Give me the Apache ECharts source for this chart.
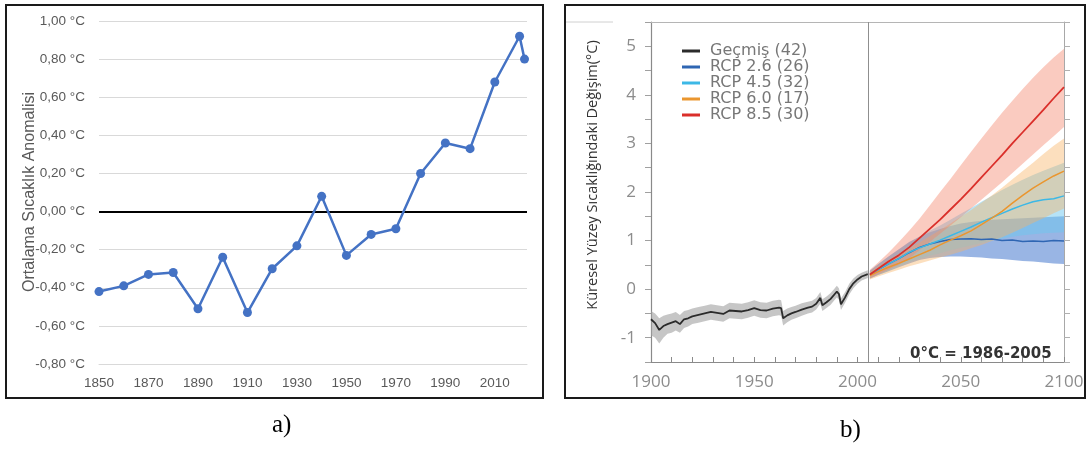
<!DOCTYPE html>
<html>
<head>
<meta charset="utf-8">
<script src="https://cdn.jsdelivr.net/npm/echarts@6/dist/echarts.min.js"></script>
<style>
  html, body { margin: 0; padding: 0; background: #fff; }
  #wrap { position: relative; width: 1089px; height: 449px; overflow: hidden; background: #fff; }
  #chartA { position: absolute; left: 0; top: 0; width: 548px; height: 449px; }
  #chartB { position: absolute; left: 548px; top: 0; width: 541px; height: 449px; filter: blur(0.45px); }
  #frame { position: absolute; left: 0; top: 0; width: 1089px; height: 449px; }
</style>
</head>
<body>
<div id="wrap">
  <div id="chartA"></div>
  <div id="chartB"></div>
  <div id="frame"></div>
</div>
<script>
// ---------- Panel a: decadal mean temperature anomaly ----------
const anomalyYears = [1850, 1860, 1870, 1880, 1890, 1900, 1910, 1920, 1930, 1940,
                      1950, 1960, 1970, 1980, 1990, 2000, 2010, 2020, 2022];
const anomalyValues = [-0.42, -0.39, -0.33, -0.32, -0.51, -0.24, -0.53, -0.30, -0.18, 0.08,
                       -0.23, -0.12, -0.09, 0.20, 0.36, 0.33, 0.68, 0.92, 0.80];
const anomalyAxisTitle = 'Ortalama Sıcaklık Anomalisi';

// ---------- Panel b: observed and projected surface temperature change ----------
const legendNames = ['Geçmiş (42)', 'RCP 2.6 (26)', 'RCP 4.5 (32)', 'RCP 6.0 (17)', 'RCP 8.5 (30)'];
const changeAxisTitle = 'Küresel Yüzey Sıcaklığındaki Değişim(°C)';
const baselineNote = '0°C = 1986-2005';
const panelCaptions = ['a)', 'b)'];

const histYears = [1900, 1902, 1904, 1906, 1908, 1910, 1912, 1914, 1916, 1918, 1920, 1923, 1926, 1929,
                   1932, 1935, 1938, 1941, 1944, 1947, 1950, 1953, 1956, 1959, 1962, 1963, 1964, 1966,
                   1968, 1970, 1973, 1976, 1978, 1980, 1982, 1983, 1985, 1987, 1989, 1990, 1991, 1992,
                   1994, 1996, 1998, 2000, 2002, 2005];
const histMean = [-0.62, -0.70, -0.84, -0.76, -0.72, -0.69, -0.66, -0.72, -0.62, -0.60, -0.56, -0.53, -0.50, -0.47,
                  -0.49, -0.51, -0.44, -0.45, -0.46, -0.43, -0.39, -0.43, -0.44, -0.40, -0.38, -0.39, -0.60, -0.54,
                  -0.50, -0.47, -0.42, -0.38, -0.36, -0.30, -0.18, -0.33, -0.27, -0.20, -0.10, -0.05, -0.10, -0.31,
                  -0.17, 0.00, 0.12, 0.20, 0.26, 0.31];
const histLow = [-0.95, -1.00, -1.12, -1.00, -0.92, -0.90, -0.85, -0.90, -0.80, -0.77, -0.72, -0.69, -0.66, -0.63,
                 -0.65, -0.67, -0.60, -0.61, -0.62, -0.59, -0.55, -0.59, -0.60, -0.56, -0.54, -0.55, -0.75, -0.68,
                 -0.63, -0.60, -0.55, -0.50, -0.48, -0.42, -0.30, -0.45, -0.39, -0.32, -0.22, -0.17, -0.22, -0.43,
                 -0.28, -0.11, 0.02, 0.11, 0.18, 0.23];
const histHigh = [-0.45, -0.50, -0.60, -0.55, -0.52, -0.50, -0.47, -0.53, -0.45, -0.43, -0.40, -0.37, -0.34, -0.31,
                  -0.33, -0.35, -0.28, -0.29, -0.30, -0.27, -0.23, -0.27, -0.28, -0.24, -0.22, -0.23, -0.45, -0.40,
                  -0.37, -0.34, -0.29, -0.26, -0.24, -0.18, -0.06, -0.21, -0.15, -0.08, 0.02, 0.07, 0.02, -0.19,
                  -0.06, 0.11, 0.22, 0.29, 0.34, 0.39];

const projYears = [2006, 2010, 2015, 2020, 2025, 2030, 2035, 2040, 2045, 2050,
                   2055, 2060, 2065, 2070, 2075, 2080, 2085, 2090, 2095, 2100];

const rcp26Mean = [0.30, 0.40, 0.52, 0.63, 0.75, 0.86, 0.93, 0.98, 1.02, 1.03, 1.04, 1.02, 1.03, 1.00, 1.01, 0.98, 0.99, 0.98, 1.00, 0.99];
const rcp26Low  = [0.22, 0.29, 0.37, 0.45, 0.53, 0.60, 0.64, 0.66, 0.67, 0.67, 0.66, 0.65, 0.63, 0.62, 0.60, 0.58, 0.57, 0.55, 0.53, 0.52];
const rcp26High = [0.38, 0.51, 0.67, 0.82, 0.97, 1.08, 1.17, 1.24, 1.30, 1.35, 1.38, 1.41, 1.43, 1.44, 1.45, 1.46, 1.47, 1.48, 1.49, 1.50];

const rcp45Mean = [0.30, 0.40, 0.52, 0.63, 0.76, 0.85, 0.93, 1.01, 1.10, 1.19, 1.28, 1.38, 1.47, 1.56, 1.65, 1.73, 1.80, 1.84, 1.86, 1.92];
const rcp45Low  = [0.22, 0.29, 0.38, 0.47, 0.56, 0.63, 0.69, 0.74, 0.80, 0.85, 0.90, 0.95, 1.00, 1.04, 1.08, 1.11, 1.13, 1.15, 1.16, 1.17];
const rcp45High = [0.38, 0.51, 0.66, 0.80, 0.95, 1.08, 1.20, 1.31, 1.43, 1.55, 1.67, 1.80, 1.92, 2.04, 2.15, 2.25, 2.35, 2.44, 2.52, 2.60];

const rcp60Mean = [0.28, 0.36, 0.45, 0.53, 0.62, 0.71, 0.80, 0.91, 1.01, 1.10, 1.20, 1.33, 1.46, 1.60, 1.77, 1.93, 2.08, 2.21, 2.33, 2.43];
const rcp60Low  = [0.20, 0.26, 0.33, 0.40, 0.47, 0.53, 0.59, 0.65, 0.71, 0.77, 0.84, 0.91, 0.99, 1.07, 1.16, 1.26, 1.36, 1.46, 1.56, 1.66];
const rcp60High = [0.36, 0.47, 0.60, 0.72, 0.84, 0.96, 1.09, 1.22, 1.35, 1.49, 1.63, 1.78, 1.93, 2.09, 2.26, 2.43, 2.60, 2.78, 2.95, 3.10];

const rcp85Mean = [0.30, 0.42, 0.57, 0.70, 0.86, 1.05, 1.24, 1.43, 1.64, 1.85, 2.07, 2.30, 2.53, 2.76, 3.00, 3.23, 3.46, 3.69, 3.93, 4.16];
const rcp85Low  = [0.22, 0.30, 0.40, 0.50, 0.63, 0.80, 0.97, 1.14, 1.31, 1.48, 1.66, 1.84, 2.02, 2.20, 2.39, 2.58, 2.77, 2.96, 3.15, 3.34];
const rcp85High = [0.40, 0.55, 0.75, 0.97, 1.20, 1.45, 1.72, 2.00, 2.27, 2.55, 2.83, 3.10, 3.37, 3.63, 3.88, 4.12, 4.35, 4.57, 4.77, 4.95];

const SCENARIO_YEAR = 2005;

// ---------------- helpers ----------------
const pairs = (xs, ys) => xs.map((x, i) => [x, ys[i]]);

// Uncertainty envelope: one polygon running along the upper bound and back along the lower bound
function band(xs, lo, hi, fill, z) {
  return {
    type: 'custom',
    silent: true,
    clip: true,
    z: z,
    data: xs.map((x, i) => [x, lo[i], hi[i]]),
    encode: { x: 0, y: [1, 2] },
    renderItem: function (params, api) {
      if (params.dataIndex !== 0) return null;
      const pts = [];
      for (let i = 0; i < xs.length; i++) pts.push(api.coord([xs[i], hi[i]]));
      for (let i = xs.length - 1; i >= 0; i--) pts.push(api.coord([xs[i], lo[i]]));
      return { type: 'polygon', shape: { points: pts }, style: { fill: fill } };
    }
  };
}

// ---------------- Panel a ----------------
const chartA = echarts.init(document.getElementById('chartA'), null, { renderer: 'canvas' });
const excelFont = "'Liberation Sans Narrow', 'Liberation Sans', sans-serif";
chartA.setOption({
  animation: false,
  graphic: [
    { type: 'text', x: 30, y: 192, rotation: Math.PI / 2,
      style: { text: anomalyAxisTitle, font: "16px " + excelFont, fill: '#595959',
               textAlign: 'center', textVerticalAlign: 'middle' } }
  ],
  grid: { left: 99, right: 21, top: 21, bottom: 85 },
  xAxis: {
    type: 'value', min: 1850, max: 2023, interval: 20,
    axisLine: { show: true, onZero: false, lineStyle: { color: '#d9d9d9', width: 1 } },
    axisTick: { show: false },
    splitLine: { show: false },
    axisLabel: { showMaxLabel: false, color: '#595959', fontSize: 13.5, fontFamily: excelFont, margin: 12,
                 formatter: v => String(v) }
  },
  yAxis: {
    type: 'value', min: -0.8, max: 1.0, interval: 0.2,
    axisLine: { show: false }, axisTick: { show: false },
    splitLine: { lineStyle: { color: '#d9d9d9', width: 1 } },
    axisLabel: {
      color: '#595959', fontSize: 13.5, fontFamily: excelFont, margin: 14,
      formatter: v => v.toFixed(2).replace('.', ',') + ' °C'
    }
  },
  series: [{
    type: 'line',
    data: pairs(anomalyYears, anomalyValues),
    symbol: 'circle', symbolSize: 9,
    lineStyle: { color: '#4472C4', width: 2.5 },
    itemStyle: { color: '#4472C4' },
    markLine: {
      silent: true, symbol: 'none', label: { show: false },
      lineStyle: { color: '#000', width: 1.8, type: 'solid' },
      data: [{ yAxis: 0 }]
    },
    z: 5
  }]
});

// ---------------- Panel b ----------------
const chartB = echarts.init(document.getElementById('chartB'), null, { renderer: 'canvas' });
const sans = "'Open Sans', 'Noto Sans', sans-serif";
const wide = "'DejaVu Sans', 'Open Sans', sans-serif";
const axisGray = '#8c8c8c';
const frameGray = '#8a8a8a';

const colBlack = '#2b2b2b', colBlue = '#2f66b3', colCyan = '#3cb8e6', colOrange = '#ea962f', colRed = '#da2f2a';

function meanLine(name, xs, ys, color, width, z, extra) {
  return Object.assign({
    name: name, type: 'line', data: pairs(xs, ys),
    showSymbol: false, symbol: 'none',
    lineStyle: { color: color, width: width },
    itemStyle: { color: color },
    z: z, silent: true
  }, extra || {});
}

chartB.setOption({
  animation: false,
  graphic: [
    { type: 'line', shape: { x1: 18, y1: 22, x2: 65, y2: 22 },
      style: { stroke: '#d0d0d0', lineWidth: 1 } },
    { type: 'text', x: 45, y: 175, rotation: Math.PI / 2,
      style: { text: changeAxisTitle, font: "14.5px " + sans, fill: '#333',
               textAlign: 'center', textVerticalAlign: 'middle' } },
    { type: 'text', x: 362, y: 354,
      style: { text: baselineNote, font: "bold 15px " + wide, fill: '#333',
               textAlign: 'left', textVerticalAlign: 'middle' }, z: 50 }
  ],
  legend: {
    data: legendNames,
    orient: 'vertical', left: 129, top: 38,
    itemWidth: 18, itemHeight: 3, itemGap: 0, icon: 'rect',
    textStyle: { color: '#777', fontSize: 16, fontFamily: wide, lineHeight: 13, padding: [0, 0, 0, 5] },
    selectedMode: false
  },
  grid: { left: 103, right: 25, top: 22, bottom: 87 },
  xAxis: [{
    type: 'value', min: 1900, max: 2100, interval: 10, position: 'bottom',
    axisLine: { show: true, onZero: false, lineStyle: { color: frameGray, width: 1.2 } },
    axisTick: { show: true, inside: true, length: 5, lineStyle: { color: frameGray } },
    splitLine: { show: false },
    axisLabel: { color: axisGray, fontSize: 17, fontFamily: sans, margin: 12,
                 formatter: v => (v % 50 === 0 ? String(v) : '') }
  }, {
    type: 'value', min: 1900, max: 2100, interval: 50, position: 'top',
    axisLine: { show: true, onZero: false, lineStyle: { color: '#b5b5b5', width: 1 } },
    axisTick: { show: false }, axisLabel: { show: false }, splitLine: { show: false }
  }],
  yAxis: [{
    type: 'value', min: -1.5, max: 5.5, interval: 0.5, position: 'left',
    axisLine: { show: true, onZero: false, lineStyle: { color: frameGray, width: 1.2 } },
    axisTick: { show: true, length: 6, lineStyle: { color: '#a0a0a0' } },
    splitLine: { show: false },
    axisLabel: { color: axisGray, fontSize: 17, fontFamily: sans, margin: 15,
                 formatter: v => (Math.abs(v - Math.round(v)) < 1e-9 ? String(Math.round(v)) : '') }
  }, {
    type: 'value', min: -1.5, max: 5.5, interval: 0.5, position: 'right',
    axisLine: { show: true, onZero: false, lineStyle: { color: '#a8a8a8', width: 1 } },
    axisTick: { show: true, length: 6, lineStyle: { color: '#b0b0b0' } },
    axisLabel: { show: false }, splitLine: { show: false }
  }],
  series: [
    band(histYears, histLow, histHigh, 'rgba(160,160,160,0.6)', 1),
    band(projYears, rcp26Low, rcp26High, 'rgba(70,120,205,0.55)', 1),
    band(projYears, rcp45Low, rcp45High, 'rgba(110,200,240,0.5)', 1),
    band(projYears, rcp60Low, rcp60High, 'rgba(248,178,100,0.42)', 1),
    band(projYears, rcp85Low, rcp85High, 'rgba(242,130,105,0.42)', 1),
    meanLine(legendNames[0], histYears, histMean, colBlack, 1.8, 4, {
      markLine: {
        silent: true, symbol: 'none', label: { show: false },
        lineStyle: { color: '#8f8f8f', width: 1, type: 'solid' },
        data: [{ xAxis: SCENARIO_YEAR }]
      }
    }),
    meanLine(legendNames[1], projYears, rcp26Mean, colBlue, 1.5, 4),
    meanLine(legendNames[2], projYears, rcp45Mean, colCyan, 1.5, 4),
    meanLine(legendNames[3], projYears, rcp60Mean, colOrange, 1.5, 4),
    meanLine(legendNames[4], projYears, rcp85Mean, colRed, 1.8, 5)
  ]
});

// ---------------- Panel frames and captions (kept sharp) ----------------
const frame = echarts.init(document.getElementById('frame'), null, { renderer: 'canvas' });
const captionFont = "25px 'Liberation Serif', 'Times New Roman', serif";
frame.setOption({
  animation: false,
  graphic: [
    { type: 'rect', shape: { x: 6, y: 5, width: 537, height: 393 },
      style: { fill: 'none', stroke: '#1a1a1a', lineWidth: 2 } },
    { type: 'rect', shape: { x: 565, y: 5, width: 520, height: 393 },
      style: { fill: 'none', stroke: '#1a1a1a', lineWidth: 2 } },
    { type: 'text', left: 272, top: 413, style: { text: panelCaptions[0], font: captionFont, fill: '#000' } },
    { type: 'text', left: 840, top: 418, style: { text: panelCaptions[1], font: captionFont, fill: '#000' } }
  ]
});
</script>
</body>
</html>
